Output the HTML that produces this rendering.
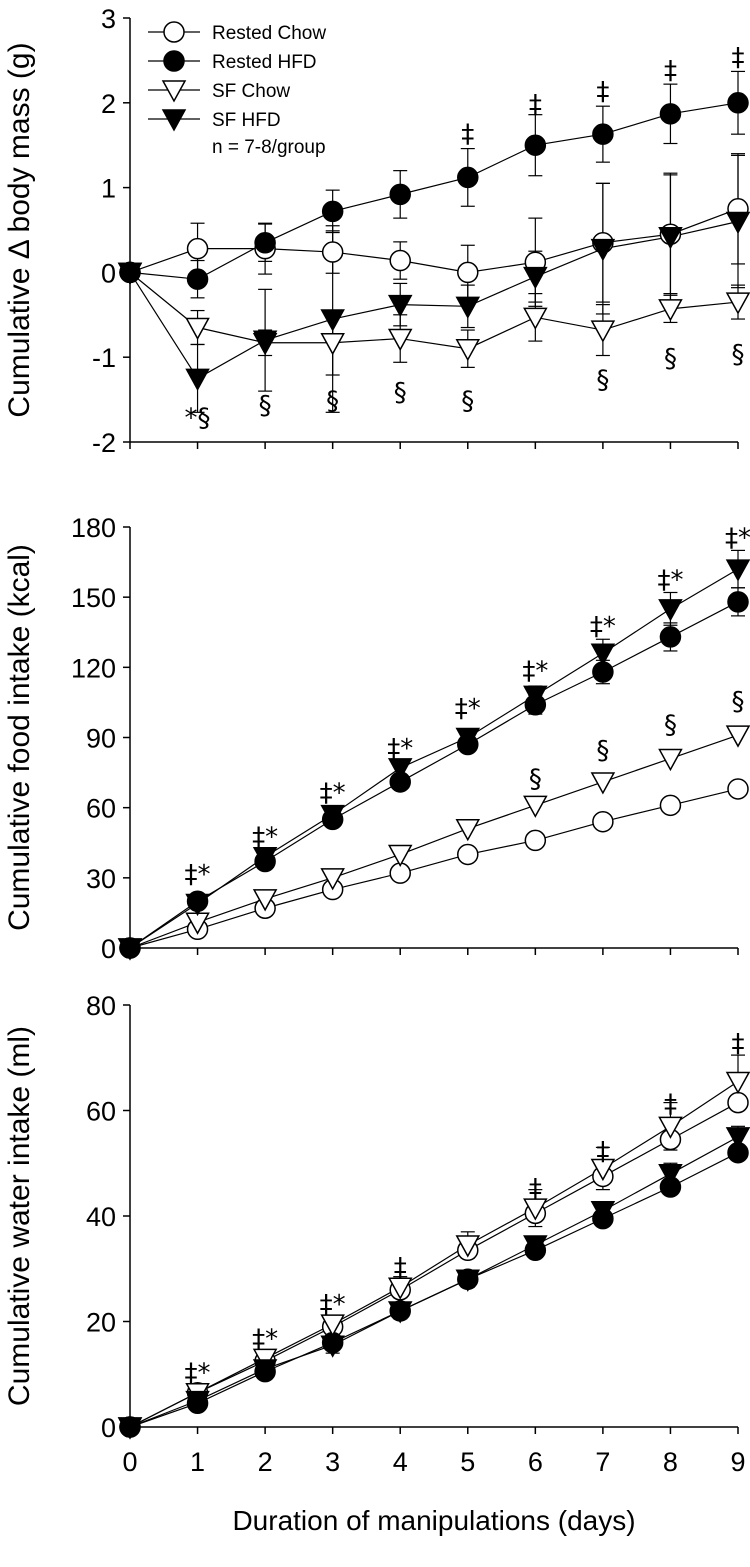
<!DOCTYPE html>
<html><head><meta charset="utf-8"><style>
body{margin:0;background:#fff}
svg{display:block;font-family:"Liberation Sans",Arial,sans-serif}
</style></head><body>
<svg id="c" width="750" height="1567"></svg>
<script>
const days=[0,1,2,3,4,5,6,7,8,9];
const seriesNames=["Rested Chow","Rested HFD","SF Chow","SF HFD"];
// panel 1 body mass
const p1RC=[0,0.28,0.28,0.24,0.14,0,0.12,0.35,0.45,0.75];
const p1RH=[0,-0.08,0.35,0.72,0.92,1.12,1.5,1.63,1.87,2.0];
const p1SC=[0,-0.65,-0.83,-0.83,-0.78,-0.9,-0.53,-0.68,-0.43,-0.35];
const p1SH=[0,-1.25,-0.8,-0.55,-0.38,-0.4,-0.05,0.28,0.42,0.6];
const p1eRC=[0,0.3,0.3,0.25,0.22,0.32,0.52,0.7,0.7,0.65];
const p1eRH=[0,0.22,0.22,0.25,0.28,0.34,0.36,0.33,0.35,0.37];
const p1eSC=[0,0.2,0.15,0.38,0.28,0.22,0.28,0.3,0.16,0.2];
const p1eSH=[0,0.4,0.6,1.1,0.25,0.25,0.3,0.77,0.75,0.78];
// panel 2 food
const p2RC=[0,8,17,25,32,40,46,54,61,68];
const p2RH=[0,20,37,55,71,87,104,118,133,148];
const p2SC=[0,11,21,30,40,51,61,71,81,91];
const p2SH=[0,19,39,57,77,90,108,126,145,162];
const p2eRH=[0,2,2,3,3,3,4,5,6,6];
const p2eSH=[0,2,2,3,3,3,4,6,7,8];
// panel 3 water
const p3RC=[0,6.5,12.5,19,26,33.5,40.5,47.5,54.5,61.5];
const p3RH=[0,4.5,10.5,16,22,28,33.5,39.5,45.5,52];
const p3SC=[0,6.5,13,19.5,26.5,34.5,41.5,49,57,65.5];
const p3SH=[0,5,11,15.5,22,28,34.5,41,48,55];
const p3eSC=[0,1,1,1.5,2,2.5,3.5,4,4.5,5];
const p3eSH=[0,1,1,1.5,1.5,1.5,1.5,1.5,2,2];
const xTicks=[0,1,2,3,4,5,6,7,8,9];
const p1Ticks=[-2,-1,0,1,2,3];
const p2Ticks=[0,30,60,90,120,150,180];
const p3Ticks=[0,20,40,60,80];
const p1Ann=[["*§",1,-1.7],["§",2,-1.55],["§",3,-1.5],["§",4,-1.4],["§",5,-1.5],["‡",5,1.65],["‡",6,2.0],["‡",7,2.15],["‡",8,2.4],["‡",9,2.55],["§",7,-1.25],["§",8,-1.0],["§",9,-0.95]];
const p2Ann=[["‡*",1,32],["‡*",2,48],["‡*",3,67],["‡*",4,86],["‡*",5,103],["‡*",6,119],["‡*",7,138],["‡*",8,158],["‡*",9,176],["§",6,73],["§",7,85],["§",8,96],["§",9,106]];
const p3Ann=[["‡*",1,10.5],["‡*",2,17],["‡*",3,23.5],["‡",4,30.5],["‡",6,45.5],["‡",7,52.5],["‡",8,61.5],["‡",9,73]];

const svg=document.getElementById('c');const NS="http://www.w3.org/2000/svg";
function el(t,a,p){const e=document.createElementNS(NS,t);for(const k in a)e.setAttribute(k,a[k]);(p||svg).appendChild(e);return e;}
const X0=130,X1=738;
const xs=d=>X0+(X1-X0)*d/9;
function panel(name,top,bot,ymin,ymax,ticks,title,series,errs,ann,xlab){
  const g=el('g',{});
  
  
  const ys=v=>bot-(bot-top)*(v-ymin)/(ymax-ymin);
  el('line',{x1:X0,y1:top,x2:X0,y2:bot,stroke:'#000','stroke-width':1.5},g);
  el('line',{x1:X0,y1:bot,x2:X1,y2:bot,stroke:'#000','stroke-width':1.5},g);
  ticks.forEach(t=>{el('line',{x1:X0-7,y1:ys(t),x2:X0,y2:ys(t),stroke:'#000','stroke-width':1.5},g);
    const tx=el('text',{x:X0-14,y:ys(t)+10,'text-anchor':'end','font-size':27},g);tx.textContent=t;});
  xTicks.forEach(t=>{el('line',{x1:xs(t),y1:bot,x2:xs(t),y2:bot+7,stroke:'#000','stroke-width':1.5},g);
    if(xlab){const tx=el('text',{x:xs(t),y:bot+44,'text-anchor':'middle','font-size':27},g);tx.textContent=t;}});
  const yt=el('text',{x:0,y:0,'text-anchor':'middle','font-size':30,transform:`translate(${X0-101},${(top+bot)/2}) rotate(-90)`},g);yt.textContent=title;
  series.forEach((s,i)=>{const e=errs[i];if(!e)return;
    days.forEach((d,j)=>{if(!e[j])return;const x=xs(d);
      el('line',{x1:x,y1:ys(s[j]-e[j]),x2:x,y2:ys(s[j]+e[j]),stroke:'#000','stroke-width':1.2},g);
      [s[j]-e[j],s[j]+e[j]].forEach(v=>el('line',{x1:x-7,y1:ys(v),x2:x+7,y2:ys(v),stroke:'#000','stroke-width':1.2},g));});});
  series.forEach((s,i)=>{
    el('polyline',{points:days.map((d,j)=>xs(d)+','+ys(s[j])).join(' '),fill:'none',stroke:'#000','stroke-width':1.2},g);
  });
  series.forEach((s,i)=>{days.forEach((d,j)=>marker(g,i,xs(d),ys(s[j])));});
  ann.forEach(a=>{const t=el('text',{x:xs(a[1]),y:ys(a[2])+10,'text-anchor':'middle','font-size':26,'font-family':'"DejaVu Sans",sans-serif'},g);t.textContent=a[0];});
}
function marker(g,i,x,y){
  const fill=(i%2)?'#000':'#fff';
  let m;
  if(i<2)m=el('circle',{cx:x,cy:y,r:10,fill,stroke:'#000','stroke-width':1.5},g);
  else m=el('polygon',{points:`${x-11},${y-9} ${x+11},${y-9} ${x},${y+11}`,fill,stroke:'#000','stroke-width':1.5},g);
  
  
}
panel('body-mass-panel',18,442,-2,3,p1Ticks,'Cumulative Δ body mass (g)',[p1RC,p1RH,p1SC,p1SH],[p1eRC,p1eRH,p1eSC,p1eSH],p1Ann,false);
panel('food-intake-panel',527,948,0,180,p2Ticks,'Cumulative food intake (kcal)',[p2RC,p2RH,p2SC,p2SH],[null,p2eRH,null,p2eSH],p2Ann,false);
panel('water-intake-panel',1005,1427,0,80,p3Ticks,'Cumulative water intake (ml)',[p3RC,p3RH,p3SC,p3SH],[null,null,p3eSC,p3eSH],p3Ann,true);
const xt=el('text',{x:434,y:1530,'text-anchor':'middle','font-size':28});xt.textContent='Duration of manipulations (days)';


const lg=el('g',{});


seriesNames.forEach((n,i)=>{const y=32+i*29;
  el('line',{x1:148,y1:y,x2:200,y2:y,stroke:'#000','stroke-width':1.2},lg);
  marker(lg,i,174,y);
  const t=el('text',{x:212,y:y+7,'font-size':19},lg);t.textContent=n;});
const nt=el('text',{x:212,y:32+4*29+5,'font-size':19},lg);nt.textContent='n = 7-8/group';
</script>
</body></html>
